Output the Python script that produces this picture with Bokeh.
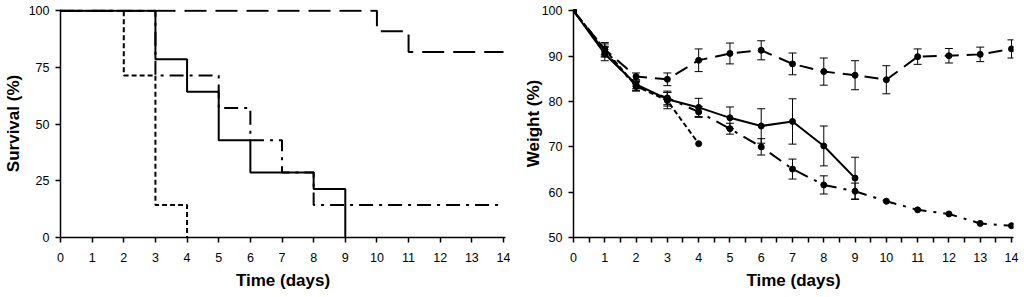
from bokeh.plotting import figure
from bokeh.layouts import row
from bokeh.models import Range1d, FixedTicker, ColumnDataSource, Whisker, TeeHead
from bokeh.embed import file_html
from bokeh.resources import INLINE

# ---- Survival data (Kaplan-Meier steps) ----
surv_dash_t = [0, 10, 11, 14]
surv_dash_v = [100, 90.9, 81.8, 81.8]
surv_solid_t = [0, 3, 4, 5, 6, 8, 9]
surv_solid_v = [100, 78.6, 64.3, 42.9, 28.6, 21.4, 0]
surv_short_t = [0, 2, 3, 4]
surv_short_v = [100, 71.4, 14.3, 0]
surv_dashdot_t = [0, 3, 5, 6, 7, 8, 14]
surv_dashdot_v = [100, 71.4, 57.1, 42.9, 28.6, 14.3, 14.3]

# ---- Weight data ----
w_dash_days = list(range(0, 15))
w_dash_val = [100, 91.5, 85.5, 84.9, 89.1, 90.6, 91.3, 88.3, 86.6, 85.8, 84.8, 89.9, 90.1, 90.4, 91.6]
w_dash_err = [0, 1.5, 0.8, 1.4, 2.5, 2.3, 2.1, 2.4, 3.0, 3.2, 3.1, 1.7, 1.6, 1.6, 2.0]

w_solid_days = list(range(0, 10))
w_solid_val = [100, 90.5, 83.8, 80.5, 78.7, 76.4, 74.6, 75.6, 70.2, 63.1]
w_solid_err = [0, 1.5, 1.0, 1.5, 2.0, 2.4, 3.8, 5.0, 4.4, 4.6]

w_short_days = [0, 1, 2, 3, 4]
w_short_val = [100, 91.5, 83.4, 80.2, 70.7]
w_short_err = [0, 1.2, 1.0, 1.8, 0]

w_dd_days = list(range(0, 15))
w_dd_val = [100, 91.0, 83.3, 80.8, 77.7, 74.0, 70.0, 65.1, 61.6, 60.2, 58.0, 56.1, 55.2, 53.1, 52.6]
w_dd_err = [0, 1.2, 1.0, 1.5, 1.2, 1.2, 1.8, 2.2, 2.0, 1.8, 0, 0, 0, 0, 0]

x_ticks = list(range(0, 15))
surv_ticks = [0, 25, 50, 75, 100]
weight_ticks = [50, 60, 70, 80, 90, 100]

FONT = "Liberation Sans"


def style(p, xlabel, ylabel, ylabel_standoff):
    for ax in (p.xaxis[0], p.yaxis[0]):
        ax.axis_line_color = "black"
        ax.axis_line_width = 1.5
        ax.major_tick_line_color = "black"
        ax.major_tick_line_width = 1.5
        ax.major_tick_in = 0
        ax.major_tick_out = 5
        ax.major_label_text_font = FONT
        ax.major_label_text_font_size = "12.5px"
        ax.major_label_text_color = "black"
        ax.axis_label_text_font = FONT
        ax.axis_label_text_font_size = "17px"
        ax.axis_label_text_font_style = "bold"
        ax.axis_label_text_color = "black"
    p.xaxis.axis_label = xlabel
    p.yaxis.axis_label = ylabel
    p.xaxis.major_label_standoff = 10
    p.xaxis.axis_label_standoff = 6
    p.yaxis.major_label_standoff = 6
    p.yaxis.axis_label_standoff = ylabel_standoff
    p.xgrid.visible = False
    p.ygrid.visible = False
    p.outline_line_color = None
    p.background_fill_color = "white"
    p.border_fill_color = "white"


# ---- Left: survival ----
p1 = figure(width=510, height=297, output_backend="svg", toolbar_location=None,
            x_range=Range1d(0, 14.063), y_range=Range1d(0, 100.5),
            min_border_left=60, min_border_right=5, min_border_top=9, min_border_bottom=60)
style(p1, "Time (days)", "Survival (%)", 3)
p1.xaxis.ticker = FixedTicker(ticks=x_ticks)
p1.yaxis.ticker = FixedTicker(ticks=surv_ticks)
p1.xaxis.minor_tick_line_color = None
p1.yaxis.minor_tick_line_color = None

p1.step(surv_dashdot_t, surv_dashdot_v, mode="after", line_color="black", line_width=2,
        line_dash="14 6 3 6")
p1.step(surv_short_t, surv_short_v, mode="after", line_color="black", line_width=2,
        line_dash="5 3")
p1.step(surv_dash_t, surv_dash_v, mode="after", line_color="black", line_width=2,
        line_dash="22 9")
p1.step(surv_solid_t, surv_solid_v, mode="after", line_color="black", line_width=2)

# ---- Right: weight ----
p2 = figure(width=514, height=297, output_backend="svg", toolbar_location=None,
            x_range=Range1d(0, 14.064), y_range=Range1d(50, 100.3),
            min_border_left=63, min_border_right=11, min_border_top=9, min_border_bottom=60)
style(p2, "Time (days)", "Weight (%)", -4)
p2.xaxis.ticker = FixedTicker(ticks=x_ticks, minor_ticks=[i + 0.5 for i in range(14)])
p2.xaxis.minor_tick_line_color = "black"
p2.xaxis.minor_tick_line_width = 1.5
p2.xaxis.minor_tick_in = 0
p2.xaxis.minor_tick_out = 5
p2.yaxis.ticker = FixedTicker(ticks=weight_ticks)
p2.yaxis.minor_tick_line_color = None


def series(p, days, vals, errs, dash):
    src = ColumnDataSource(dict(x=days, y=vals))
    keep = [i for i, e in enumerate(errs) if e > 0]
    esrc = ColumnDataSource(dict(
        x=[days[i] for i in keep],
        lo=[vals[i] - errs[i] for i in keep],
        hi=[vals[i] + errs[i] for i in keep]))
    w = Whisker(source=esrc, base="x", lower="lo", upper="hi",
                line_color="black", line_width=1,
                lower_head=TeeHead(size=8, line_color="black", line_width=1),
                upper_head=TeeHead(size=8, line_color="black", line_width=1))
    p.add_layout(w)
    if dash is None:
        p.line("x", "y", source=src, line_color="black", line_width=2)
    else:
        p.line("x", "y", source=src, line_color="black", line_width=2, line_dash=dash)
    p.scatter("x", "y", source=src, size=6, color="black")


series(p2, w_dd_days, w_dd_val, w_dd_err, "14 7 3 7")
series(p2, w_short_days, w_short_val, w_short_err, "5 3")
series(p2, w_dash_days, w_dash_val, w_dash_err, "14 8")
series(p2, w_solid_days, w_solid_val, w_solid_err, None)

p = row(p1, p2)
open("out.html", "w").write(file_html(p, INLINE))
